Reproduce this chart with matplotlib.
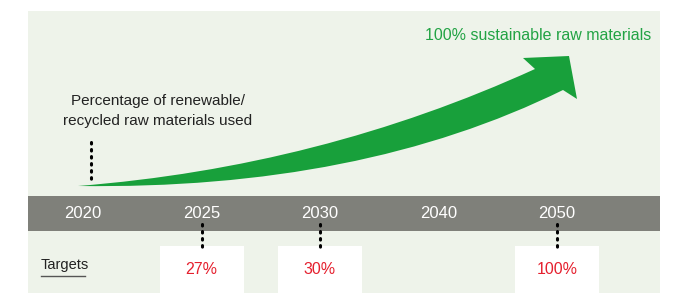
import matplotlib
matplotlib.use("Agg")
import matplotlib.pyplot as plt
from matplotlib.patches import Rectangle, PathPatch
from matplotlib.path import Path

# ---- data ----
years = [2020, 2025, 2030, 2040, 2050]
target_years = [2025, 2030, 2050]
target_values = [27, 30, 100]
start_label = "Percentage of renewable/\nrecycled raw materials used"
goal_label = "100% sustainable raw materials"
targets_label = "Targets"

# ---- style ----
W, H = 684, 293
bg_panel = "#eef3ea"
band_col = "#7f807a"
arrow_col = "#18a03b"
green_txt = "#22a344"
red_txt = "#e5202e"
dark_txt = "#222222"
regular = ["Liberation Sans", "DejaVu Sans"]

fig = plt.figure(figsize=(W / 100, H / 100), dpi=100)
fig.patch.set_facecolor("white")

# background axes in pixel units (y downwards)
bg = fig.add_axes([0, 0, 1, 1])
bg.set_xlim(0, W)
bg.set_ylim(H, 0)
bg.axis("off")

bg.add_patch(Rectangle((28, 11), 632, 282, facecolor=bg_panel, edgecolor="none", zorder=0))
bg.add_patch(Rectangle((28, 196), 632, 35, facecolor=band_col, edgecolor="none", zorder=1))

# curved arrow
verts = [(78, 186),
         (320, 167), (535, 69),      # upper edge (quadratic)
         (523, 58), (569, 56), (577, 99), (563, 90),   # head
         (360, 190), (78, 186),      # lower edge back to tail
         (78, 186)]
codes = [Path.MOVETO,
         Path.CURVE3, Path.CURVE3,
         Path.LINETO, Path.LINETO, Path.LINETO, Path.LINETO,
         Path.CURVE3, Path.CURVE3,
         Path.CLOSEPOLY]
bg.add_patch(PathPatch(Path(verts, codes), facecolor=arrow_col, edgecolor="none", zorder=2))

bg.text(651, 36, goal_label, color=green_txt, fontsize=11.5, family=regular,
        ha="right", va="center", zorder=3)
bg.text(158, 111, start_label, color=dark_txt, fontsize=11, family=regular,
        ha="center", va="center", linespacing=1.5, zorder=3)
# dotted leader under the start label
bg.plot([91, 91], [142, 179], color="black", lw=2.2, ls=(0, (0.5, 1.8)),
        dash_capstyle="round", zorder=3)

# Targets label with underline
bg.text(41, 265, targets_label, color=dark_txt, fontsize=10.5, family=regular,
        ha="left", va="center", zorder=3)
bg.plot([41, 85], [276, 276], color="#555555", lw=1.0, zorder=3)

# data axes: x = timeline index, y in pixels
ax = fig.add_axes([0, 0, 1, 1], facecolor="none")
step = 118.5
x0 = 83
ax.set_xlim(-x0 / step, (W - x0) / step)
ax.set_ylim(H, 0)
ax.axis("off")

box_w = 84 / step
for i, yr in enumerate(years):
    ax.text(i, 213, str(yr), color="white", fontsize=12, family=regular,
            ha="center", va="center", zorder=4)

for yr, val in zip(target_years, target_values):
    i = years.index(yr)
    ax.add_patch(Rectangle((i - box_w / 2, 246), box_w, 47, facecolor="white",
                           edgecolor="none", zorder=3))
    ax.plot([i, i], [224, 247], color="black", lw=2.2, ls=(0, (0.5, 1.8)),
            dash_capstyle="round", zorder=4)
    ax.text(i, 269, f"{val}%", color=red_txt, fontsize=11.5, family=regular,
            ha="center", va="center", zorder=4)

fig.savefig("out.png", dpi=100, facecolor="white")
